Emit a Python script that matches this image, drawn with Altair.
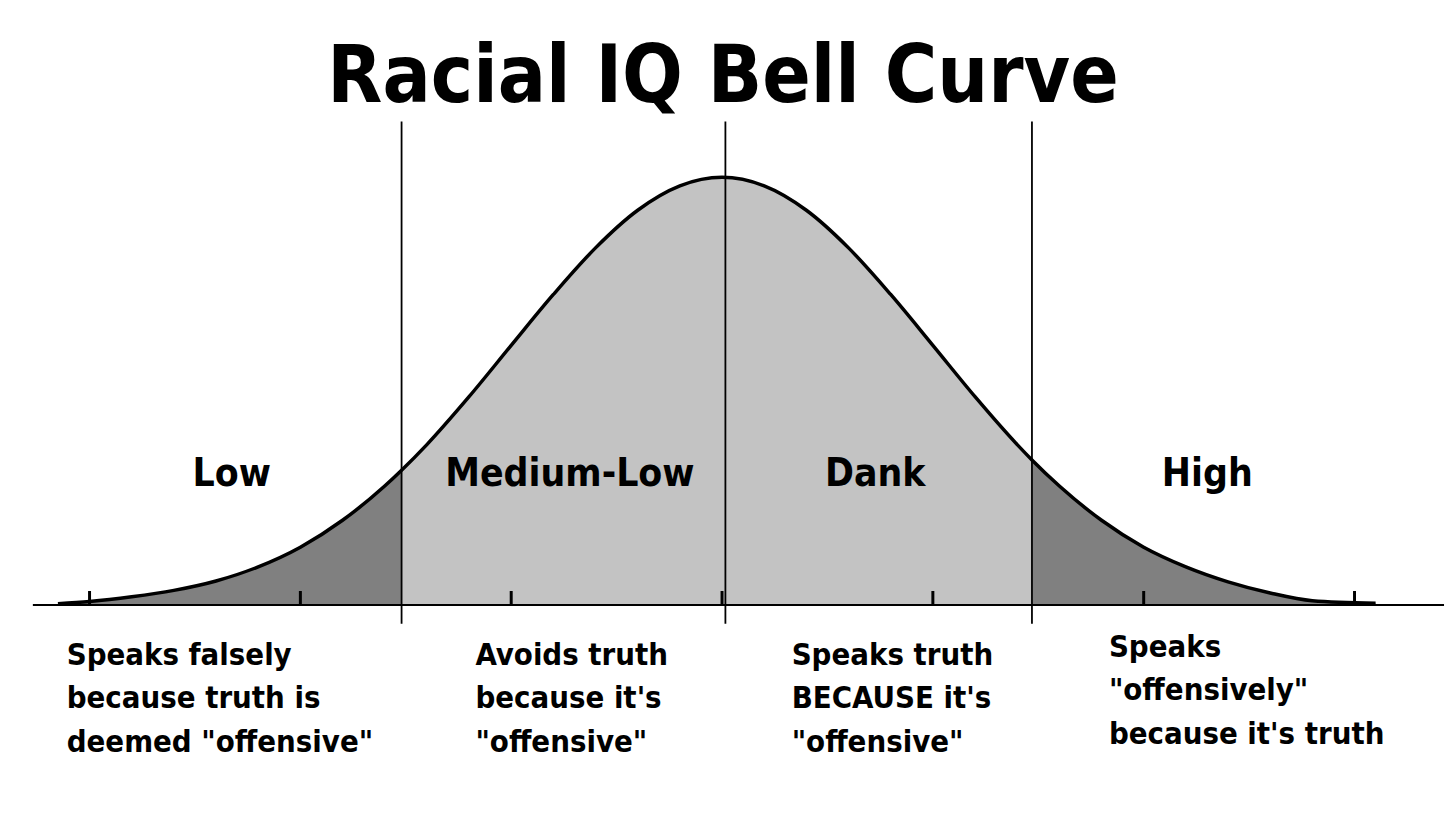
import altair as alt
import pandas as pd

# ---- data (z = standard deviations, h = height relative to peak)
curve_z = [-3.15, -3.0, -2.8, -2.6, -2.4, -2.2, -2.0, -1.8, -1.6, -1.52, -1.4, -1.2, -1.0, -0.8, -0.6,
           -0.4, -0.2, 0.0, 0.2, 0.4, 0.6, 0.8, 1.0, 1.2, 1.4, 1.47, 1.6, 1.8, 2.0, 2.2, 2.4,
           2.6, 2.8, 3.1]
curve_h = [0.003, 0.008, 0.019, 0.034, 0.056, 0.089, 0.135, 0.198, 0.278, 0.315, 0.375, 0.487,
           0.607, 0.726, 0.835, 0.923, 0.980, 1.0, 0.980, 0.923, 0.835, 0.726, 0.607, 0.487,
           0.375, 0.339, 0.278, 0.198, 0.135, 0.089, 0.054, 0.028, 0.010, 0.004]
divider_z = [-1.52, 0.016, 1.47]
tick_z = [-3, -2, -1, 0, 1, 2, 3]
region_names = ["Low", "Medium-Low", "Dank", "High"]
region_desc = [
    ["Speaks falsely", "because truth is", 'deemed "offensive"'],
    ["Avoids truth", "because it's", '"offensive"'],
    ["Speaks truth", "BECAUSE it's", '"offensive"'],
    ["Speaks", '"offensively"', "because it's truth"],
]
title_text = "Racial IQ Bell Curve"

FONT = "DejaVu Sans Condensed, Liberation Sans Narrow, sans-serif"

# ---- pixel layout (page px) -> chart domains
W, H = 1448, 811
def zx(px):
    return (px - 726) / 212.0
def hy(py):
    return (606 - py) / 430.0

xs = alt.Scale(domain=[zx(8), zx(8 + W)], nice=False, zero=False)
ys = alt.Scale(domain=[hy(8 + H), hy(8)], nice=False, zero=False)

rows = []
for z, h in zip(curve_z, curve_h):
    if z <= -1.52:
        rows.append({"z": z, "h": h, "part": "tailL"})
    if -1.52 <= z <= 1.47:
        rows.append({"z": z, "h": h, "part": "mid"})
    if z >= 1.47:
        rows.append({"z": z, "h": h, "part": "tailR"})
area_df = pd.DataFrame(rows)
curve_df = pd.DataFrame({"z": curve_z, "h": curve_h})

X = alt.X("z:Q", scale=xs, axis=None)
Y = alt.Y("h:Q", scale=ys, axis=None)

areas = alt.Chart(area_df).mark_area(interpolate="monotone").encode(
    x=X, y=Y, y2=alt.datum(0),
    color=alt.Color("part:N", scale=alt.Scale(domain=["tailL", "mid", "tailR"],
                                              range=["#808080", "#c3c3c3", "#808080"]),
                    legend=None),
    detail="part:N",
)

line = alt.Chart(curve_df).mark_line(interpolate="monotone", color="black", strokeWidth=3.5).encode(
    x=X, y=Y)

base_df = pd.DataFrame({"z": [zx(33)], "z2": [zx(1452)], "h": [0.0]})
baseline = alt.Chart(base_df).mark_rule(color="black", strokeWidth=2).encode(
    x=X, x2="z2:Q", y=Y)

div_df = pd.DataFrame({"z": divider_z, "h": [hy(120)] * 3, "h2": [hy(625)] * 3})
dividers = alt.Chart(div_df).mark_rule(color="black", strokeWidth=1.8).encode(
    x=X, y=Y, y2="h2:Q")

tick_df = pd.DataFrame({"z": tick_z, "h": [hy(592)] * len(tick_z), "h2": [0.0] * len(tick_z)})
ticks = alt.Chart(tick_df).mark_rule(color="black", strokeWidth=3).encode(
    x=X, y=Y, y2="h2:Q")

# region labels
label_px = [233, 573, 880, 1214]
lab_df = pd.DataFrame({"t": region_names, "px": [p - 8 for p in label_px], "py": [486 - 8] * 4})
labels = alt.Chart(lab_df).mark_text(font=FONT, fontWeight="bold", fontSize=39,
                                     baseline="alphabetic", align="center", color="black").encode(
    x=alt.X("px:Q", scale=None), y=alt.Y("py:Q", scale=None), text="t:N")

# descriptions
desc_left = [67, 478, 796, 1115]
desc_base = [[666, 710, 754], [666, 710, 754], [666, 710, 754], [658, 702, 746]]
drows = []
for i, lines in enumerate(region_desc):
    for j, t in enumerate(lines):
        drows.append({"t": t, "px": desc_left[i] - 8, "py": desc_base[i][j] - 8})
desc_df = pd.DataFrame(drows)
descs = alt.Chart(desc_df).mark_text(font=FONT, fontWeight="bold", fontSize=31,
                                     baseline="alphabetic", align="left", color="black").encode(
    x=alt.X("px:Q", scale=None), y=alt.Y("py:Q", scale=None), text="t:N")

title_df = pd.DataFrame({"t": [title_text], "px": [727 - 8], "py": [100 - 8]})
title = alt.Chart(title_df).mark_text(font=FONT, fontWeight="bold", fontSize=80,
                                      baseline="alphabetic", align="center", color="black").encode(
    x=alt.X("px:Q", scale=None), y=alt.Y("py:Q", scale=None), text="t:N")

chart = alt.layer(areas, line, baseline, dividers, ticks, labels, descs, title).properties(
    width=W, height=H, padding=0, autosize=alt.AutoSizeParams(type="none"), background="white"
).configure_view(stroke=None)

chart.save("out.html", embed_options={"renderer": "svg", "actions": False})
